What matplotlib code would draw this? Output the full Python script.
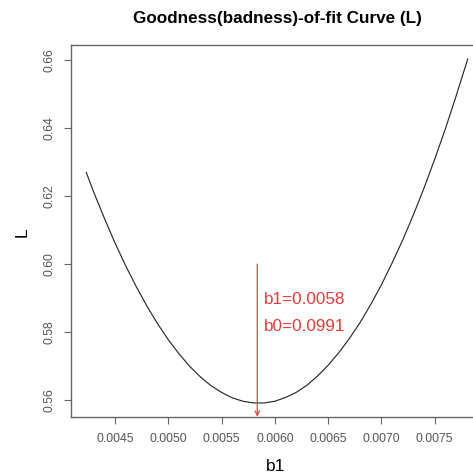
import matplotlib
matplotlib.use('Agg')
import matplotlib.pyplot as plt

# b1 grid and loss L
b1_vals = [0.00423, 0.00430, 0.00440, 0.00450, 0.00460, 0.00470, 0.00480, 0.00490,
           0.00500, 0.00510, 0.00520, 0.00530, 0.00540, 0.00550, 0.00560, 0.00570,
           0.00580, 0.00590, 0.00600, 0.00610, 0.00620, 0.00630, 0.00640, 0.00650,
           0.00660, 0.00670, 0.00680, 0.00690, 0.00700, 0.00710, 0.00720, 0.00730,
           0.00740, 0.00750, 0.00760, 0.00770, 0.00781]
L_vals = [0.6270, 0.6212, 0.6135, 0.6062, 0.5995, 0.5933, 0.5876, 0.5824,
          0.5777, 0.5736, 0.5699, 0.5668, 0.5642, 0.5622, 0.5606, 0.5596,
          0.5591, 0.5591, 0.5596, 0.5607, 0.5622, 0.5643, 0.5670, 0.5702,
          0.5739, 0.5781, 0.5828, 0.5881, 0.5939, 0.6003, 0.6071, 0.6145,
          0.6224, 0.6309, 0.6398, 0.6494, 0.6604]

best_b1 = 0.005835
arrow_top = 0.600
x_ticks = [0.0045, 0.0050, 0.0055, 0.0060, 0.0065, 0.0070, 0.0075]
y_ticks = [0.56, 0.58, 0.60, 0.62, 0.64, 0.66]
labels = ['b1=0.0058', 'b0=0.0991']

plt.rcParams['font.family'] = ['Liberation Sans', 'DejaVu Sans']

fig = plt.figure(figsize=(4.73, 4.76), dpi=100)
ax = fig.add_axes([0.1501, 0.1246, 0.8710, 0.7803])

ax.plot(b1_vals, L_vals, color='#2a2a2a', lw=0.85)

# R style limits: 4% padding on each side
xpad = 0.04 * (max(b1_vals) - min(b1_vals))
ypad = 0.04 * (max(L_vals) - min(L_vals))
ax.set_xlim(min(b1_vals) - xpad, max(b1_vals) + xpad)
ax.set_ylim(min(L_vals) - ypad, max(L_vals) + ypad)

# arrow down to the minimum
ax.annotate('', xy=(best_b1, ax.get_ylim()[0]), xytext=(best_b1, arrow_top),
            arrowprops=dict(arrowstyle='->', color='#f04040', lw=0.9,
                            mutation_scale=8, shrinkA=0, shrinkB=0))
ax.text(0.0059, 0.5896, labels[0], color='#e83a3a', fontsize=12.3, ha='left', va='center')
ax.text(0.0059, 0.5817, labels[1], color='#e83a3a', fontsize=12.3, ha='left', va='center')

ax.set_xticks(x_ticks)
ax.set_xticklabels(['%.4f' % v for v in x_ticks])
ax.set_yticks(y_ticks)
ax.set_yticklabels(['%.2f' % v for v in y_ticks], rotation=90, va='center')

ax.tick_params(direction='out', length=5, width=0.8, color='#666666',
               labelcolor='#555555', labelsize=8.7)
ax.tick_params(axis='x', pad=7)
ax.tick_params(axis='y', pad=6)

for sp in ax.spines.values():
    sp.set_color('#666666')
    sp.set_linewidth(1.0)

ax.set_xlabel('b1', fontsize=12.5, va='center')
ax.set_ylabel('L', fontsize=12.5, va='center')
ax.xaxis.set_label_coords(0.4976, -0.1346)
ax.yaxis.set_label_coords(-0.1197, 0.498)

ax.set_title('Goodness(badness)-of-fit Curve (L)', fontsize=12.3, fontweight='bold',
             y=1.0708, va='center', pad=0)

fig.savefig('out.png', dpi=100)
